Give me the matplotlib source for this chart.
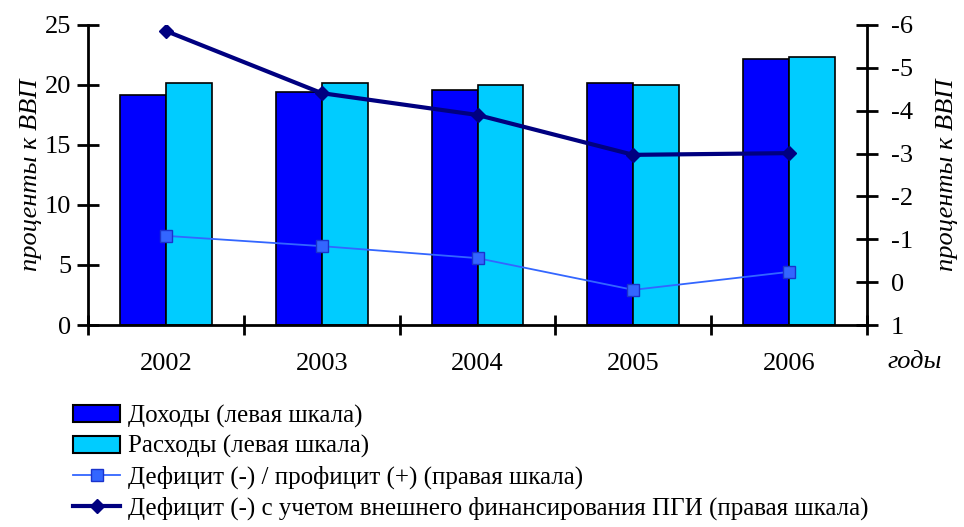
import matplotlib.pyplot as plt
import numpy as np
from matplotlib.lines import Line2D
from matplotlib.patches import Patch

plt.rcParams['font.family'] = ['Liberation Serif', 'DejaVu Serif']
plt.rcParams['axes.unicode_minus'] = False

years = ['2002', '2003', '2004', '2005', '2006']
dohody = [19.2, 19.4, 19.6, 20.2, 22.2]
rashody = [20.2, 20.2, 20.0, 20.0, 22.3]
deficit = [-1.08, -0.84, -0.56, 0.18, -0.24]
deficit_pgi = [-5.86, -4.41, -3.9, -2.97, -3.01]

fig = plt.figure(figsize=(9.64, 5.27), dpi=100)
ax = fig.add_axes([0.0913, 0.3833, 0.8081, 0.5693])
x = np.arange(len(years))
w = 0.295

ax.bar(x - w / 2, dohody, w, color='#0000FF', edgecolor='black', linewidth=1.2, zorder=2)
ax.bar(x + w / 2, rashody, w, color='#00CCFF', edgecolor='black', linewidth=1.2, zorder=2)
ax.set_xlim(-0.5, len(years) - 0.5)
ax.set_ylim(0, 25)
ax.set_yticks(range(0, 26, 5))
ax.set_xticks(np.arange(-0.5, len(years), 1.0))
ax.set_xticklabels([])
ax.set_xticks(x, minor=True)
ax.set_xticklabels(years, minor=True)
ax.tick_params(axis='x', which='major', direction='inout', length=15, width=2)
ax.tick_params(axis='x', which='minor', length=0, pad=20, labelsize=19)
ax.tick_params(axis='y', direction='inout', length=16, width=2, labelsize=19, pad=4)
for s in ['top', 'right']:
    ax.spines[s].set_visible(False)
for s in ['left', 'bottom']:
    ax.spines[s].set_linewidth(2)
ax.set_ylabel('проценты к ВВП', fontsize=19, style='italic', labelpad=2)

ax2 = ax.twinx()
ax2.plot(x, deficit, color='#3366FF', linewidth=1.3, marker='s', markersize=8,
         markerfacecolor='#3366FF', markeredgecolor='#1a33cc', zorder=3)
ax2.plot(x, deficit_pgi, color='#000080', linewidth=3, marker='D', markersize=7,
         markerfacecolor='#000080', zorder=4)
ax2.set_ylim(1, -6)
ax2.set_yticks(range(-6, 2))
ax2.tick_params(axis='y', direction='inout', length=16, width=2, labelsize=19, pad=9)
for s in ['top', 'left', 'bottom']:
    ax2.spines[s].set_visible(False)
ax2.spines['right'].set_linewidth(2)
ax2.set_ylabel('проценты к ВВП', fontsize=19, style='italic', labelpad=17)
ax2.yaxis.set_label_position('right')

fig.text(0.949, 0.313, 'годы', fontsize=19, style='italic', ha='center', va='center')

handles = [
    Patch(facecolor='#0000FF', edgecolor='black', linewidth=1.5),
    Patch(facecolor='#00CCFF', edgecolor='black', linewidth=1.5),
    Line2D([0], [0], color='#3366FF', linewidth=1.3, marker='s', markersize=8,
           markerfacecolor='#3366FF', markeredgecolor='#1a33cc'),
    Line2D([0], [0], color='#000080', linewidth=3, marker='D', markersize=7),
]
labels = ['Доходы (левая шкала)', 'Расходы (левая шкала)',
          'Дефицит (-) / профицит (+) (правая шкала)',
          'Дефицит (-) с учетом внешнего финансирования ПГИ (правая шкала)']
fig.legend(handles, labels, loc='upper left', bbox_to_anchor=(0.0757, 0.232),
           frameon=False, fontsize=18, handlelength=1.9, handleheight=0.65,
           handletextpad=0.3, labelspacing=0.3, borderpad=0, borderaxespad=0)

fig.savefig('out.png', dpi=100)
